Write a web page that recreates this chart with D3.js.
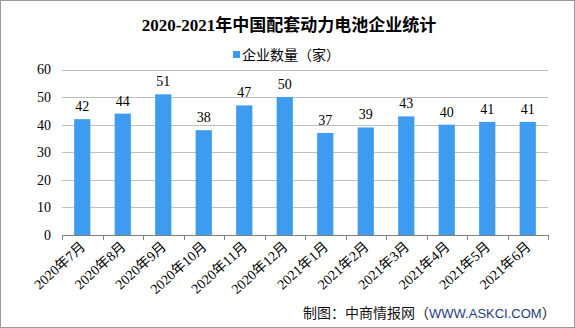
<!DOCTYPE html>
<html><head><meta charset="utf-8">
<script src="https://cdn.jsdelivr.net/npm/d3@7"></script>
<style>
html,body{margin:0;padding:0;background:#fff;}
svg{display:block;}
</style></head>
<body>
<script>
const categories = ["2020年7月","2020年8月","2020年9月","2020年10月","2020年11月","2020年12月","2021年1月","2021年2月","2021年3月","2021年4月","2021年5月","2021年6月"];
const values = [42,44,51,38,47,50,37,39,43,40,41,41];
const yTicks = [0,10,20,30,40,50,60];
const title = "2020-2021年中国配套动力电池企业统计";
const seriesName = "企业数量（家）";

const W = 575, H = 328;
const svg = d3.select("body").append("svg").attr("width", W).attr("height", H);
svg.append("rect").attr("x",0.5).attr("y",0.5).attr("width",W-1).attr("height",H-1)
  .attr("fill","#fff").attr("stroke","#9a9a9a");

const serif = "'Liberation Serif','Noto Sans CJK SC',serif";
const sansCJK = "'Noto Sans CJK SC','Liberation Sans',sans-serif";
const barColor = "#3d9cf0";

const x = d3.scaleBand().domain(categories).range([62, 548]).paddingInner(0.6).paddingOuter(0.3);
const y = d3.scaleLinear().domain([0,60]).range([235, 69.5]);

// gridlines
const grid = svg.append("g");
grid.selectAll("line").data(yTicks.filter(d=>d>0)).join("line")
  .attr("x1",62).attr("x2",548).attr("y1",d=>Math.round(y(d))+0.5).attr("y2",d=>Math.round(y(d))+0.5)
  .attr("stroke","#c0c0c0").attr("stroke-width",1);

// y labels
svg.append("g").selectAll("text").data(yTicks).join("text")
  .attr("x",51).attr("y",d=>y(d)).attr("dy","0.35em").attr("text-anchor","end")
  .attr("font-family",serif).attr("font-size",14).attr("fill","#000").text(d=>d);

// bars
svg.append("g").selectAll("rect").data(values).join("rect")
  .attr("x",(d,i)=>x(categories[i])).attr("width",x.bandwidth())
  .attr("y",d=>y(d)).attr("height",d=>y(0)-y(d)).attr("fill",barColor);

// value labels
svg.append("g").selectAll("text").data(values).join("text")
  .attr("x",(d,i)=>x(categories[i])+x.bandwidth()/2).attr("y",d=>y(d)-8)
  .attr("text-anchor","middle").attr("font-family",serif).attr("font-size",14).attr("fill","#000").text(d=>d);

// x axis
const xAxis = svg.append("g");
xAxis.append("line").attr("x1",62).attr("x2",548).attr("y1",235.5).attr("y2",235.5).attr("stroke","#808080");
const bounds = d3.range(categories.length+1).map(i=>62 + i*(486/categories.length));
xAxis.selectAll("line.tk").data(bounds).join("line").attr("class","tk")
  .attr("x1",d=>Math.round(d)+0.5).attr("x2",d=>Math.round(d)+0.5).attr("y1",235).attr("y2",240).attr("stroke","#808080");

xAxis.selectAll("text").data(categories).join("text")
  .attr("transform",d=>`translate(${x(d)+x.bandwidth()/2+4},${248}) rotate(-42)`)
  .attr("text-anchor","end").attr("font-family",serif).attr("font-size",14).attr("fill","#000").text(d=>d);

// title
svg.append("text").attr("x",289).attr("y",31).attr("text-anchor","middle")
  .attr("font-family",serif).attr("font-weight","bold").attr("font-size",17).attr("fill","#000").text(title);

// legend
svg.append("rect").attr("x",233).attr("y",51).attr("width",7).attr("height",7).attr("fill",barColor);
svg.append("text").attr("x",242).attr("y",59.5).attr("font-family",sansCJK).attr("font-size",14).attr("fill","#000").text(seriesName);

// footer
const ft = svg.append("text").attr("x",303).attr("y",318).attr("font-family",sansCJK).attr("font-size",14).attr("fill","#111");
ft.append("tspan").text("制图：中商情报网（");
ft.append("tspan").attr("fill","#1f3d7a").attr("font-family","'Liberation Sans',sans-serif").attr("font-size",13).text("WWW.ASKCI.COM");
ft.append("tspan").text("）");
</script>
</body></html>
